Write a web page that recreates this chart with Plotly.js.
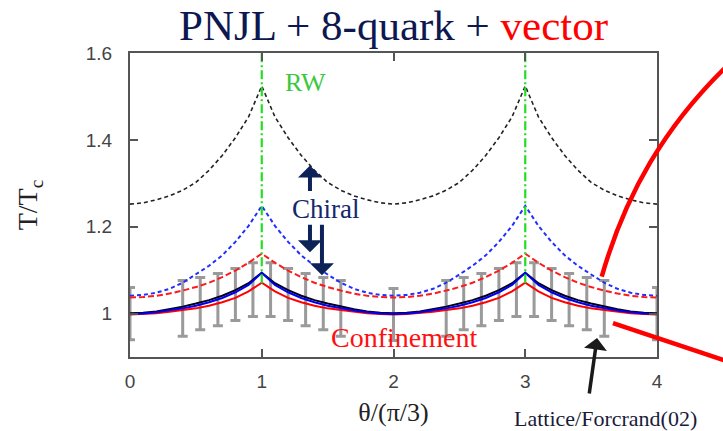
<!DOCTYPE html>
<html>
<head>
<meta charset="utf-8">
<script src="https://cdn.plot.ly/plotly-3.0.1.min.js"></script>
<style>html,body{margin:0;padding:0;background:#fff;}#chart{width:723px;height:431px;}</style>
</head>
<body>
<div id="chart"></div>
<script>
// theta/(pi/3) grid
const theta = [0,0.1,0.2,0.3,0.4,0.5,0.6,0.7,0.8,0.9,1.0,1.1,1.2,1.3,1.4,1.5,1.6,1.7,1.8,1.9,2.0,2.1,2.2,2.3,2.4,2.5,2.6,2.7,2.8,2.9,3.0,3.1,3.2,3.3,3.4,3.5,3.6,3.7,3.8,3.9,4.0];

// Chiral (PNJL, no vector) - black dashed
const chiralBlackDash = [1.252,1.255,1.262,1.271,1.284,1.302,1.330,1.364,1.405,1.453,1.524,1.453,1.405,1.364,1.330,1.302,1.284,1.271,1.262,1.255,1.252,1.255,1.262,1.271,1.284,1.302,1.330,1.364,1.405,1.453,1.524,1.453,1.405,1.364,1.330,1.302,1.284,1.271,1.262,1.255,1.252];
// Chiral (8-quark) - blue dashed
const chiralBlueDash = [1.041,1.043,1.048,1.057,1.071,1.090,1.110,1.134,1.165,1.202,1.248,1.202,1.165,1.134,1.110,1.090,1.071,1.057,1.048,1.043,1.041,1.043,1.048,1.057,1.071,1.090,1.110,1.134,1.165,1.202,1.248,1.202,1.165,1.134,1.110,1.090,1.071,1.057,1.048,1.043,1.041];
// Chiral (8-quark + vector) - red dashed
const chiralRedDash = [1.037,1.038,1.041,1.046,1.053,1.061,1.071,1.084,1.099,1.117,1.138,1.117,1.099,1.084,1.071,1.061,1.053,1.046,1.041,1.038,1.037,1.038,1.041,1.046,1.053,1.061,1.071,1.084,1.099,1.117,1.138,1.117,1.099,1.084,1.071,1.061,1.053,1.046,1.041,1.038,1.037];
// Confinement - black solid
const confBlack = [1.001,1.002,1.005,1.010,1.016,1.023,1.031,1.041,1.054,1.070,1.094,1.070,1.054,1.041,1.031,1.023,1.016,1.010,1.005,1.002,1.001,1.002,1.005,1.010,1.016,1.023,1.031,1.041,1.054,1.070,1.094,1.070,1.054,1.041,1.031,1.023,1.016,1.010,1.005,1.002,1.001];
// Confinement - blue solid
const confBlue = [0.999,1.000,1.003,1.007,1.012,1.018,1.026,1.036,1.049,1.066,1.094,1.066,1.049,1.036,1.026,1.018,1.012,1.007,1.003,1.000,0.999,1.000,1.003,1.007,1.012,1.018,1.026,1.036,1.049,1.066,1.094,1.066,1.049,1.036,1.026,1.018,1.012,1.007,1.003,1.000,0.999];
// Confinement - red solid
const confRed = [0.998,0.999,1.001,1.004,1.008,1.012,1.018,1.026,1.036,1.051,1.071,1.051,1.036,1.026,1.018,1.012,1.008,1.004,1.001,0.999,0.998,0.999,1.001,1.004,1.008,1.012,1.018,1.026,1.036,1.051,1.071,1.051,1.036,1.026,1.018,1.012,1.008,1.004,1.001,0.999,0.998];

// Lattice (Forcrand 02)
const latticeX = [0,0.4,0.533,0.667,0.8,0.933,1.067,1.2,1.333,1.467,1.6,2.0,2.4,2.533,2.667,2.8,2.933,3.067,3.2,3.333,3.467,3.6,4.0];
const latticeY = [1.0,1.012,1.023,1.032,1.044,1.055,1.055,1.044,1.032,1.023,1.012,0.998,1.012,1.023,1.032,1.044,1.055,1.055,1.044,1.032,1.023,1.012,1.0];
const latticeErr = [0.06,0.064,0.06,0.06,0.06,0.062,0.062,0.06,0.06,0.06,0.064,0.06,0.064,0.06,0.06,0.06,0.062,0.062,0.06,0.06,0.06,0.064,0.06];

// Roberge-Weiss lines
const rwX = [1,3];
const rwYRange = [1.07,1.6];

const xTicks = [0,1,2,3,4];
const yTickVals = [1,1.2,1.4,1.6];
const yTickText = ['1','1.2','1.4','1.6'];

const traces = [];
traces.push({x: latticeX, y: latticeY, type:'scatter', mode:'markers',
  marker:{size:1, color:'rgba(0,0,0,0)'},
  error_y:{type:'data', array: latticeErr, visible:true, color:'#9a9a9a', thickness:3, width:5},
  hoverinfo:'skip', showlegend:false});
traces.push({x: theta, y: chiralBlackDash, mode:'lines', line:{color:'#222', width:1.6, dash:'4px,3px'}, showlegend:false});
traces.push({x: theta, y: chiralBlueDash, mode:'lines', line:{color:'#1f2fff', width:2, dash:'4px,3px'}, showlegend:false});
traces.push({x: theta, y: chiralRedDash, mode:'lines', line:{color:'#ff1a1a', width:2, dash:'6px,3px'}, showlegend:false});
traces.push({x: theta, y: confRed, mode:'lines', line:{color:'#ff0000', width:2}, showlegend:false});
traces.push({x: theta, y: confBlack, mode:'lines', line:{color:'#000018', width:2}, showlegend:false});
traces.push({x: theta, y: confBlue, mode:'lines', line:{color:'#0000ee', width:2}, showlegend:false});
rwX.forEach(function(v){
  traces.push({x:[v,v], y: rwYRange, mode:'lines', line:{color:'#22dd22', width:2.2, dash:'9px,3px,2px,3px'}, showlegend:false});
});

const serif = 'Liberation Serif';
const sans = 'Liberation Sans';

const layout = {
  width:723, height:431, autosize:false,
  margin:{l:130, r:66, t:53, b:74},
  paper_bgcolor:'#fff', plot_bgcolor:'#fff',
  showlegend:false,
  title:{text:'PNJL + 8-quark + <span style="color:#ff0000">vector</span>',
    font:{family:serif, size:43, color:'#0d1850'}, x:0.5, xref:'paper', xanchor:'center',
    y:0.942, yref:'container', yanchor:'middle'},
  xaxis:{range:[0,4], tickvals:xTicks, ticks:'inside', ticklen:8, tickwidth:2, tickcolor:'#555',
    showline:true, linecolor:'#555', linewidth:2, mirror:'ticks', showgrid:false, zeroline:false,
    ticklabelstandoff:6,
    tickfont:{family:sans, size:19, color:'#444'},
    title:{text:'θ/(π/3)', font:{family:serif, size:26, color:'#222'}, standoff:12}},
  yaxis:{range:[0.9,1.6], tickvals:yTickVals, ticktext:yTickText, ticks:'inside', ticklen:8, tickwidth:2, tickcolor:'#555',
    showline:true, linecolor:'#555', linewidth:2, mirror:'ticks', showgrid:false, zeroline:false,
    ticklabelstandoff:12,
    tickfont:{family:sans, size:19, color:'#444'},
    title:{text:'T/T<sub>c</sub>', font:{family:serif, size:28, color:'#222'}, standoff:40}},
  annotations:[
    {x:1.33, y:1.531, xref:'x', yref:'y', text:'RW', showarrow:false, xanchor:'center', yanchor:'middle', font:{family:serif, size:26, color:'#3cc83c'}},
    {x:1.488, y:1.2405, xref:'x', yref:'y', text:'Chiral', showarrow:false, xanchor:'center', yanchor:'middle', font:{family:serif, size:27, color:'#14286a'}},
    {x:2.08, y:0.946, xref:'x', yref:'y', text:'Confinement', showarrow:false, xanchor:'center', yanchor:'middle', font:{family:serif, size:28, color:'#ff1010'}},
    {x:0.903, y:-0.2007, xref:'paper', yref:'paper', text:'Lattice/Forcrand(02)', showarrow:false, xanchor:'center', yanchor:'middle', font:{family:serif, size:22, color:'#1a1a3a'}},
    {x:1.366, y:1.341, xref:'x', yref:'y', text:'', showarrow:true, ax:0, ay:27, arrowhead:1, arrowsize:1, arrowwidth:4, arrowcolor:'#0d2358'},
    {x:1.366, y:1.141, xref:'x', yref:'y', text:'', showarrow:true, ax:0, ay:-29, arrowhead:1, arrowsize:1, arrowwidth:4, arrowcolor:'#0d2358'},
    {x:1.457, y:1.088, xref:'x', yref:'y', text:'', showarrow:true, ax:0, ay:-52, arrowhead:1, arrowsize:1, arrowwidth:4, arrowcolor:'#0d2358'},
    {x:3.545, y:0.944, xref:'x', yref:'y', text:'', showarrow:true, ax:-8, ay:57, arrowhead:1, arrowsize:1.1, arrowwidth:3.5, arrowcolor:'#1a1a1a'}
  ],
  shapes:[
    {type:'path', xref:'paper', yref:'paper', layer:'above',
     path:'M0.8951,0.2641 C0.9393,0.5329 1.0152,0.7632 1.1385,0.9671',
     line:{color:'#ff0000', width:4.5}},
    {type:'line', xref:'paper', yref:'paper', layer:'above', x0:0.9165, y0:0.1118, x1:1.1385, y1:-0.0174,
     line:{color:'#ff0000', width:4.5}}
  ]
};

Plotly.newPlot('chart', traces, layout, {staticPlot:true, displayModeBar:false});
</script>
</body>
</html>
